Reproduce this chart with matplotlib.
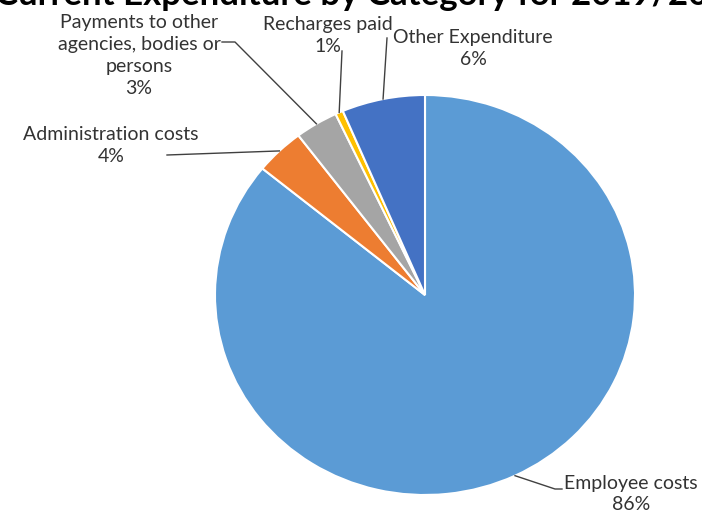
import numpy as np
import matplotlib
matplotlib.use("Agg")
import matplotlib.pyplot as plt
from matplotlib.lines import Line2D

# spending shares (%), clockwise from 12 o'clock
categories = ["Employee costs", "Administration costs",
              "Payments to other\nagencies, bodies or\npersons",
              "Recharges paid", "Other Expenditure"]
shares = [85.9, 3.8, 3.3, 0.6, 6.4]
colors = ["#5B9BD5", "#ED7D31", "#A5A5A5", "#FFC000", "#4472C4"]

W, H = 702, 513
plt.rcParams['font.family'] = ['Lato', 'DejaVu Sans']

fig = plt.figure(figsize=(W / 100, H / 100), dpi=100)


def px(x, y):
    # pixel position measured from the top-left corner -> figure fraction
    return x / W, 1 - y / H


ax = fig.add_axes([215 / W, (H - 495) / H, 420 / W, 400 / H])
wedges, _ = ax.pie(shares, colors=colors, startangle=90, counterclock=False,
                   radius=1.0, wedgeprops=dict(edgecolor="white", linewidth=1.5))
ax.set_aspect("auto")
ax.set_xlim(-1, 1)
ax.set_ylim(-1, 1)
ax.axis("off")

# label text centre (px) and leader line path from label side (px)
label_pos = [(631, 494), (111, 145.5), (139, 55.5), (328, 35.5), (473, 48.5)]
leader_paths = [
    [(562, 489), (555, 489)],
    [(167, 155)],
    [(222, 42), (235, 42)],
    [(342, 51)],
    [(387, 38)],
]

fig.canvas.draw()
inv = fig.transFigure.inverted()
for w, name, val, (tx, ty), path in zip(wedges, categories, shares, label_pos, leader_paths):
    fig.text(*px(tx, ty), f"{name}\n{round(val):.0f}%", ha="center", va="center",
             fontsize=14, color="#333333", linespacing=1.35)
    # rim point at the middle of the wedge
    mid = np.deg2rad((w.theta1 + w.theta2) / 2)
    rim = inv.transform(ax.transData.transform((np.cos(mid), np.sin(mid))))
    pts = [px(x, y) for x, y in path] + [tuple(rim)]
    xs, ys = zip(*pts)
    fig.add_artist(Line2D(xs, ys, transform=fig.transFigure, color="#404040", linewidth=1))

fig.text(*px(352, 5), "Current Expenditure by Category for 2019/20", ha="center",
         va="baseline", fontsize=25, fontweight="bold", color="black")

fig.savefig("out.png", dpi=100, facecolor="white")
